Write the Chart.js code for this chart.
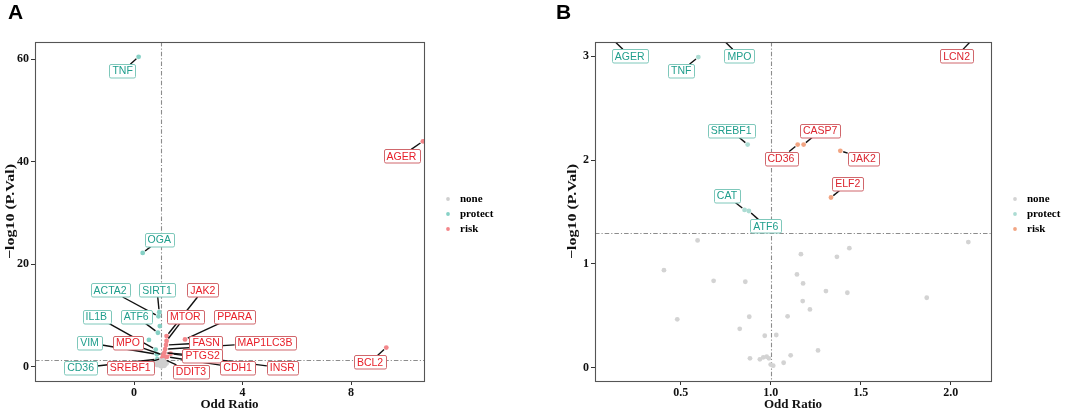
<!DOCTYPE html>
<html>
<head>
<title>Odd Ratio volcano plots</title>
<script src="https://cdn.jsdelivr.net/npm/chart.js"></script>
<style>
    body { margin: 0; background: #fff; }
    #wrap { position: relative; width: 1065px; height: 412px; }
    canvas { position: absolute; top: 0; }
    #chartA { left: 0; }
    #chartB { left: 540px; }
</style>
</head>
<body>
<div id="wrap">
    <canvas id="chartA" width="540" height="412"></canvas>
    <canvas id="chartB" width="525" height="412"></canvas>
</div>
<script>
// ---------- panel A ----------
const noneA_x = [0.95, 1.0, 1.05, 0.9, 1.1, 0.98, 1.02, 0.85, 1.15, 1.08, 0.92, 1.2, 0.82, 1.0, 1.12, 0.96, 1.04];
const noneA_y = [0.2, 0.5, 0.1, 0.8, 0.9, 1.1, 0.7, 0.3, 0.4, 1.2, 1.25, 0.6, 0.6, 0.05, 0.15, 0.9, 1.0];

const protectA_gene = ['TNF', 'OGA', 'SIRT1', 'ACTA2', 'ATF6', 'IL1B', 'VIM', 'CD36', '', ''];
const protectA_x = [0.17, 0.32, 0.93, 0.9, 0.88, 0.8, 0.84, 0.86, 0.95, 0.55];
const protectA_y = [60.5, 22.2, 10.6, 9.8, 6.6, 3.3, 2.4, 1.45, 7.9, 5.2];

const riskA_gene = ['AGER', 'BCL2', 'JAK2', 'MTOR', 'PPARA', 'FASN', 'MAP1LC3B', 'PTGS2', 'MPO', 'CDH1', 'INSR', 'SREBF1', 'DDIT3'];
const riskA_x = [10.65, 9.3, 1.2, 1.2, 1.88, 1.18, 1.15, 1.12, 1.08, 1.22, 1.35, 1.03, 1.1];
const riskA_y = [44, 3.7, 5.95, 5.0, 5.3, 4.2, 3.4, 2.7, 2.2, 1.9, 2.5, 1.6, 1.45];

// where the repelled labels sit (data units)
const labelA_gene = ['TNF', 'AGER', 'OGA', 'ACTA2', 'SIRT1', 'JAK2', 'IL1B', 'ATF6', 'MTOR', 'PPARA', 'VIM', 'MPO', 'FASN', 'MAP1LC3B', 'PTGS2', 'CD36', 'SREBF1', 'DDIT3', 'CDH1', 'INSR', 'BCL2'];
const labelA_x = [-0.42, 9.86, 0.93, -0.88, 0.85, 2.54, -1.39, 0.08, 1.89, 3.71, -1.64, -0.22, 2.66, 4.83, 2.53, -1.97, -0.14, 2.1, 3.82, 5.47, 8.7];
const labelA_y = [57.75, 41.1, 24.7, 14.9, 14.9, 14.9, 9.8, 9.8, 9.8, 9.8, 4.6, 4.6, 4.6, 4.6, 2.1, -0.26, -0.26, -1.0, -0.26, -0.26, 0.84];

const xTicksA = [0, 4, 8];
const yTicksA = [0, 20, 40, 60];

// ---------- panel B ----------
const noneB_x = [0.594, 0.407, 0.683, 0.859, 0.481, 0.881, 0.828, 0.967, 1.031, 0.885, 0.94, 0.959, 0.978, 1.014, 1.072, 1.111, 1.094, 1.146, 1.18, 1.168, 1.178, 1.218, 1.307, 1.368, 1.437, 1.426, 1.263, 1.867, 2.098, 0.99, 1.0];
const noneB_y = [1.226, 0.94, 0.837, 0.828, 0.466, 0.491, 0.375, 0.308, 0.315, 0.09, 0.081, 0.1, 0.106, 0.02, 0.048, 0.119, 0.495, 0.899, 0.812, 1.094, 0.642, 0.562, 0.738, 1.068, 1.152, 0.722, 0.167, 0.674, 1.21, 0.09, 0.03];

const protectB_gene = ['AGER', 'TNF', 'MPO', 'SREBF1', 'CAT', 'ATF6'];
const protectB_x = [0.118, 0.598, 0.73, 0.872, 0.855, 0.879];
const protectB_y = [3.17, 2.993, 3.17, 2.15, 1.52, 1.51];

const riskB_gene = ['LCN2', 'CD36', 'CASP7', 'JAK2', 'ELF2'];
const riskB_x = [2.125, 1.15, 1.183, 1.387, 1.335];
const riskB_y = [3.17, 2.15, 2.15, 2.09, 1.64];

const labelB_gene = ['AGER', 'TNF', 'MPO', 'LCN2', 'SREBF1', 'CASP7', 'CD36', 'JAK2', 'ELF2', 'CAT', 'ATF6'];
const labelB_x = [0.217, 0.503, 0.826, 2.033, 0.78, 1.275, 1.057, 1.514, 1.428, 0.757, 0.973];
const labelB_y = [3.002, 2.858, 3.002, 3.002, 2.283, 2.283, 2.018, 2.018, 1.77, 1.657, 1.364];

const xTicksB = [0.5, 1.0, 1.5, 2.0];
const yTicksB = [0, 1, 2, 3];

const legendNames = ['none', 'protect', 'risk'];
const pValCut = -Math.log10(0.05);
const yTitle = '\u2212log10 (P.Val)';

const SERIF = '"Liberation Serif", "Times New Roman", serif';
const SANS = '"Liberation Sans", Arial, sans-serif';

function pts(xs, ys) {
    return xs.map((v, i) => ({ x: v, y: ys[i] }));
}

// reference lines, repelled labels, panel border, legend, y title and panel letter
const volcanoPlugin = {
    id: 'volcano',
    beforeDatasetsDraw(chart, args, o) {
        const { ctx, chartArea: a, scales: { x, y } } = chart;
        ctx.save();
        ctx.beginPath();
        ctx.rect(a.left, a.top, a.width, a.height);
        ctx.clip();
        ctx.strokeStyle = '#8c8c8c';
        ctx.lineWidth = 1.1;
        ctx.setLineDash([4.5, 2, 1.2, 2]);
        const vx = Math.round(x.getPixelForValue(1)) + 0.5;
        const hy = Math.round(y.getPixelForValue(pValCut)) + 0.5;
        ctx.beginPath();
        ctx.moveTo(vx, a.top); ctx.lineTo(vx, a.bottom);
        ctx.moveTo(a.left, hy); ctx.lineTo(a.right, hy);
        ctx.stroke();
        ctx.restore();
    },
    afterDatasetsDraw(chart, args, o) {
        const { ctx, chartArea: a, scales: { x, y } } = chart;
        ctx.save();
        ctx.font = '10.5px ' + SANS;
        const boxes = o.labels.map((g, i) => {
            let grp = 'protect', k = o.protectGenes.indexOf(g);
            if (k < 0) { grp = 'risk'; k = o.riskGenes.indexOf(g); }
            const src = grp === 'protect' ? o.protectPts : o.riskPts;
            const px = x.getPixelForValue(src[k].x);
            const py = y.getPixelForValue(src[k].y);
            const cx = x.getPixelForValue(o.labelX[i]);
            const cy = y.getPixelForValue(o.labelY[i]);
            const w = ctx.measureText(g).width + 6, h = 13.5;
            return { g, grp, px, py, cx, cy, w, h };
        });

        // segments
        ctx.save();
        ctx.beginPath();
        ctx.rect(a.left, a.top, a.width, a.height);
        ctx.clip();
        ctx.strokeStyle = '#111';
        ctx.lineWidth = 1.4;
        boxes.forEach(b => {
            const dx = b.px - b.cx, dy = b.py - b.cy;
            const s = Math.min(b.w / 2 / Math.abs(dx || 1e-6), b.h / 2 / Math.abs(dy || 1e-6));
            if (s >= 1) return;
            const ex = b.cx + dx * s, ey = b.cy + dy * s;
            const len = Math.hypot(b.px - ex, b.py - ey);
            if (len < 3) return;
            const gap = 3 / len;
            ctx.beginPath();
            ctx.moveTo(b.px + (ex - b.px) * gap, b.py + (ey - b.py) * gap);
            ctx.lineTo(ex, ey);
            ctx.stroke();
        });
        ctx.restore();

        // label boxes
        ctx.textAlign = 'center';
        ctx.textBaseline = 'middle';
        boxes.forEach(b => {
            const c = o.labelColors[b.grp];
            const x0 = Math.round(b.cx - b.w / 2) + 0.5, y0 = Math.round(b.cy - b.h / 2) + 0.5;
            ctx.beginPath();
            ctx.roundRect(x0, y0, Math.round(b.w), b.h, 1.5);
            ctx.fillStyle = '#fff';
            ctx.fill();
            ctx.strokeStyle = c.border;
            ctx.lineWidth = 1;
            ctx.stroke();
            ctx.fillStyle = c.text;
            ctx.fillText(b.g, b.cx, b.cy + 0.5);
        });

        // panel border
        ctx.strokeStyle = '#555';
        ctx.lineWidth = 1.1;
        ctx.strokeRect(Math.round(a.left) + 0.5, Math.round(a.top) + 0.5, Math.round(a.width), Math.round(a.height));

        // y title, stretched along its length like the source figure
        ctx.save();
        ctx.translate(o.yTitleX, (a.top + a.bottom) / 2);
        ctx.rotate(-Math.PI / 2);
        ctx.scale(1.23, 1);
        ctx.font = 'bold 13px ' + SERIF;
        ctx.fillStyle = '#111';
        ctx.textAlign = 'center';
        ctx.textBaseline = 'middle';
        ctx.fillText(yTitle, 0, 0);
        ctx.restore();

        // legend
        ctx.textAlign = 'left';
        ctx.textBaseline = 'middle';
        ctx.font = 'bold 11px ' + SERIF;
        legendNames.forEach((n, i) => {
            const ly = o.legendY + i * 15;
            ctx.fillStyle = o.pointColors[i];
            ctx.beginPath();
            ctx.arc(o.legendX, ly, 1.9, 0, Math.PI * 2);
            ctx.fill();
            ctx.fillStyle = '#000';
            ctx.fillText(n, o.legendX + 12, ly);
        });

        // panel letter
        ctx.font = 'bold 21px ' + SANS;
        ctx.textBaseline = 'alphabetic';
        ctx.fillText(o.letter, o.letterX, 19);
        ctx.restore();
    }
};

function makeChart(id, cfg) {
    const tickFont = { family: SERIF, size: 12, weight: 'bold' };
    const titleFont = { family: SERIF, size: 13, weight: 'bold' };
    const protectPts = pts(cfg.protectX, cfg.protectY);
    const riskPts = pts(cfg.riskX, cfg.riskY);
    return new Chart(document.getElementById(id), {
        type: 'scatter',
        data: {
            datasets: [
                { label: 'none', data: pts(cfg.noneX, cfg.noneY), backgroundColor: cfg.pointColors[0] },
                { label: 'protect', data: protectPts, backgroundColor: cfg.pointColors[1] },
                { label: 'risk', data: riskPts, backgroundColor: cfg.pointColors[2] }
            ]
        },
        options: {
            responsive: false,
            animation: false,
            clip: 0,
            elements: { point: { radius: 2.4, borderWidth: 0, hoverRadius: 2.4 } },
            layout: { padding: cfg.padding },
            scales: {
                x: {
                    type: 'linear', min: cfg.xMin, max: cfg.xMax,
                    afterBuildTicks: s => { s.ticks = cfg.xTicks.map(v => ({ value: v })); },
                    afterFit: s => { s.height = 31; },
                    grid: { drawOnChartArea: false, tickLength: 4, color: '#333' },
                    border: { display: false },
                    ticks: { font: tickFont, color: '#111', padding: 1, maxRotation: 0,
                             callback: v => cfg.xFmt(v) },
                    title: { display: true, text: 'Odd Ratio', font: titleFont, color: '#111', padding: 0 }
                },
                y: {
                    type: 'linear', min: cfg.yMin, max: cfg.yMax,
                    afterBuildTicks: s => { s.ticks = cfg.yTicks.map(v => ({ value: v })); },
                    afterFit: s => { s.width = cfg.yWidth; },
                    grid: { drawOnChartArea: false, tickLength: 4, color: '#333' },
                    border: { display: false },
                    ticks: { font: tickFont, color: '#111', padding: 2 },
                    title: { display: false }
                }
            },
            plugins: {
                legend: { display: false },
                tooltip: { enabled: false },
                volcano: {
                    letter: cfg.letter, letterX: cfg.letterX, yTitleX: cfg.yTitleX,
                    legendX: cfg.legendX, legendY: 199,
                    pointColors: cfg.pointColors, labelColors: cfg.labelColors,
                    protectGenes: cfg.protectGenes, riskGenes: cfg.riskGenes,
                    protectPts: protectPts, riskPts: riskPts,
                    labels: cfg.labels, labelX: cfg.labelX, labelY: cfg.labelY
                }
            }
        },
        plugins: [volcanoPlugin]
    });
}

makeChart('chartA', {
    letter: 'A', letterX: 8, legendX: 448, yTitleX: 11,
    padding: { left: 0, top: 42, right: 116, bottom: 0 }, yWidth: 35,
    xMin: -3.65, xMax: 10.69, yMin: -2.83, yMax: 63.4,
    xTicks: xTicksA, yTicks: yTicksA, xFmt: v => String(v),
    noneX: noneA_x, noneY: noneA_y,
    protectX: protectA_x, protectY: protectA_y, protectGenes: protectA_gene,
    riskX: riskA_x, riskY: riskA_y, riskGenes: riskA_gene,
    labels: labelA_gene, labelX: labelA_x, labelY: labelA_y,
    pointColors: ['#cfcfcf', '#86d1c6', '#f3868a'],
    labelColors: { protect: { text: '#1f9e8c', border: '#7fc8bb' }, risk: { text: '#e8202a', border: '#d0676c' } }
});

makeChart('chartB', {
    letter: 'B', letterX: 16, legendX: 475, yTitleX: 33,
    padding: { left: 21, top: 42, right: 74, bottom: 0 }, yWidth: 34,
    xMin: 0.024, xMax: 2.224, yMin: -0.128, yMax: 3.138,
    xTicks: xTicksB, yTicks: yTicksB, xFmt: v => v.toFixed(1),
    noneX: noneB_x, noneY: noneB_y,
    protectX: protectB_x, protectY: protectB_y, protectGenes: protectB_gene,
    riskX: riskB_x, riskY: riskB_y, riskGenes: riskB_gene,
    labels: labelB_gene, labelX: labelB_x, labelY: labelB_y,
    pointColors: ['#d3d3d3', '#acdcd3', '#f2a583'],
    labelColors: { protect: { text: '#1f9e8c', border: '#7fc8bb' }, risk: { text: '#dc2630', border: '#d0676c' } }
});
</script>
</body>
</html>
